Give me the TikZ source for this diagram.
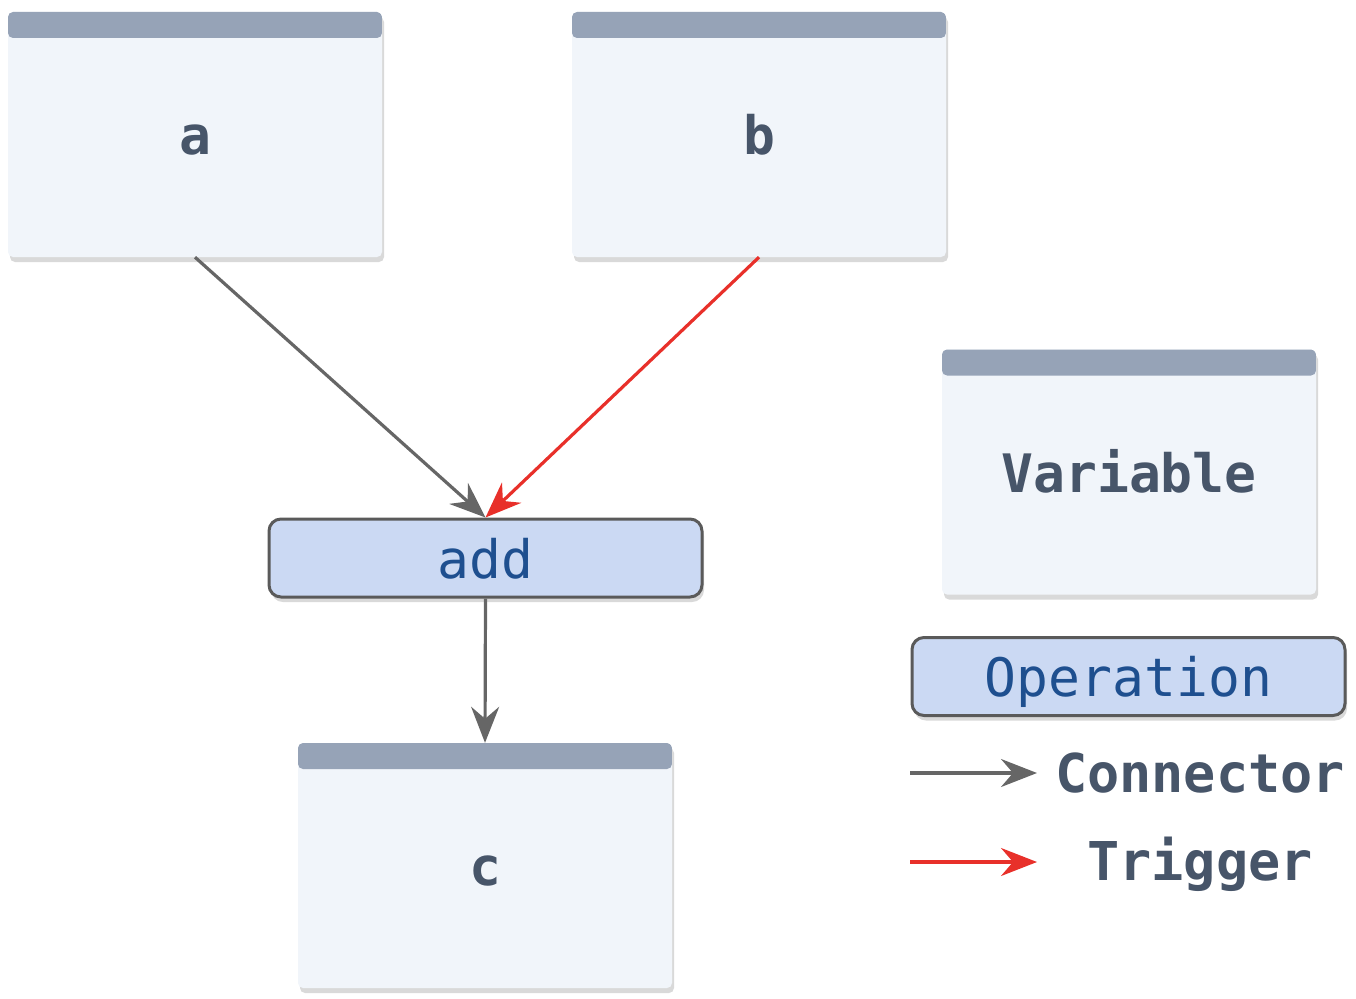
\documentclass[tikz,border=0pt]{standalone}
\usepackage{fontspec}
\newfontfamily\monofam{DejaVu Sans Mono}
\usetikzlibrary{arrows.meta,shadows}
\definecolor{hdr}{HTML}{96A3B7}
\definecolor{bodyc}{HTML}{F1F5FA}
\definecolor{txt}{HTML}{475569}
\definecolor{opfill}{HTML}{CBD9F3}
\definecolor{opline}{HTML}{5A5A5A}
\definecolor{optxt}{HTML}{1E4F8F}
\definecolor{conn}{HTML}{666666}
\definecolor{trig}{HTML}{E8302A}
\tikzset{
  varbox/.style={rounded corners=5pt, fill=bodyc, minimum width=374pt, minimum height=245pt,
    inner sep=0pt, text=txt, font=\monofam\bfseries\fontsize{53}{60}\selectfont,
    text height=50pt, text depth=10pt,
    drop shadow={shadow xshift=2pt, shadow yshift=-5pt, opacity=0.15, fill=black},
    path picture={\fill[hdr] (path picture bounding box.north west) rectangle ([yshift=-26pt]path picture bounding box.north east);}},
  opbox/.style={rounded corners=12pt, fill=opfill, draw=opline, line width=3pt,
    minimum width=433pt, minimum height=78pt, inner sep=0pt, text=optxt,
    text height=50pt, text depth=10pt,
    font=\monofam\fontsize{53}{60}\selectfont,
    drop shadow={shadow xshift=2pt, shadow yshift=-5pt, opacity=0.15, fill=black}},
  legtext/.style={text=txt, font=\monofam\bfseries\fontsize{53.5}{60}\selectfont, inner sep=0pt, anchor=base},
  connector/.style={draw=conn, line width=3.2pt, -{Stealth[length=36pt, width=28pt, inset=12pt]}},
  trigger/.style={draw=trig, line width=3.2pt, -{Stealth[length=36pt, width=28pt, inset=12pt]}}
}
\begin{document}
\begin{tikzpicture}[x=1pt, y=-1pt]
\useasboundingbox (0,0) rectangle (1356,998);
\node[varbox] (a) at (195,134.5) {a};
\node[varbox] (b) at (759,134.5) {b};
\node[varbox] (c) at (485,865.5) {c};
\node[varbox] (var) at (1129,472) {Variable};
\node[opbox] (add) at (485.5,558) {add};
\node[opbox] (op) at (1128.5,676.5) {Operation};
\draw[connector] (a.south) -- (add.north);
\draw[trigger] (b.south) -- (add.north);
\draw[connector] (add.south) -- (c.north);
\coordinate (c1s) at (910,773);
\coordinate (c1e) at (1037,773);
\coordinate (t1s) at (910,862);
\coordinate (t1e) at (1037,862);
\draw[connector] (c1s) -- (c1e);
\draw[trigger] (t1s) -- (t1e);
\node[legtext] (lc) at (1200,792) {Connector};
\node[legtext] (lt) at (1200,880) {Trigger};
\end{tikzpicture}
\end{document}
